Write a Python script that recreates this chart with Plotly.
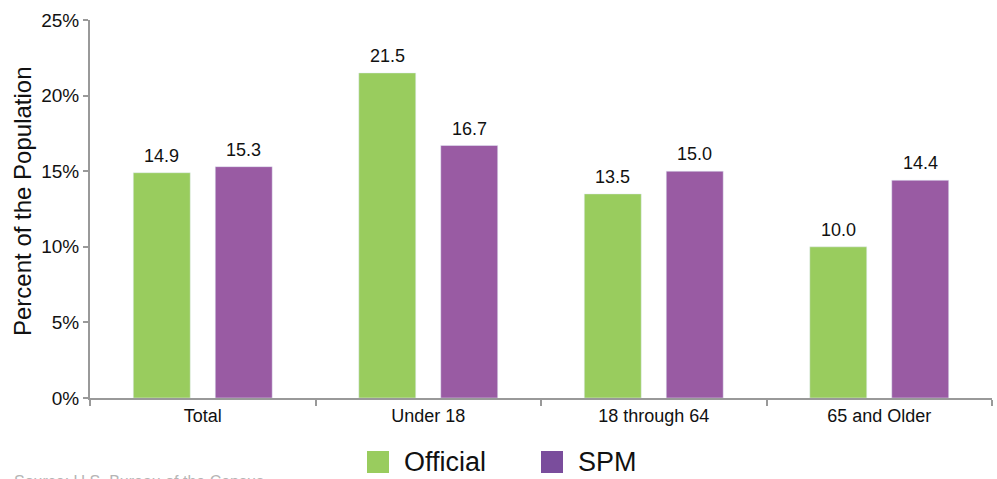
import plotly.graph_objects as go

# Poverty rates by age group: official measure vs. Supplemental Poverty Measure
categories = ["Total", "Under 18", "18 through 64", "65 and Older"]
official = [14.9, 21.5, 13.5, 10.0]
spm = [15.3, 16.7, 15.0, 14.4]
y_ticks = [0, 5, 10, 15, 20, 25]
y_tick_labels = ["0%", "5%", "10%", "15%", "20%", "25%"]

GREEN = "#99CC5E"
PURPLE = "#995BA3"
PURPLE_KEY = "#7A4D9C"
FONT = "Liberation Sans, Arial, Helvetica, sans-serif"

W, H = 997, 479
L, R, T, B = 90, 5, 20, 81
PW, PH = W - L - R, H - T - B
BARGAP = 0.273
BARGROUPGAP = 0.305


def px_x(x):
    return (x - L) / PW


def px_y(y):
    return (H - B - y) / PH


fig = go.Figure()
fig.add_trace(go.Bar(x=categories, y=official, name="Official",
                     marker_color=GREEN, showlegend=False))
fig.add_trace(go.Bar(x=categories, y=spm, name="SPM",
                     marker_color=PURPLE, showlegend=False))

annotations = []
# Value labels above each bar, centred on its slot within the group
slot = (1 - BARGAP) / 2
for series, offset in [(official, -slot / 2), (spm, slot / 2)]:
    for i, v in enumerate(series):
        annotations.append(dict(
            x=i + offset, y=v, xref="x", yref="y", text=f"{v:.1f}",
            showarrow=False, xanchor="center", yanchor="bottom", yshift=5,
            font=dict(size=18, color="#111", family=FONT),
        ))

# Legend keys drawn as squares with labels beneath the axis
shapes = []
for x0, color, label in [(367, GREEN, "Official"), (541, PURPLE_KEY, "SPM")]:
    shapes.append(dict(
        type="rect", xref="paper", yref="paper",
        x0=px_x(x0), x1=px_x(x0 + 22), y0=px_y(473), y1=px_y(451),
        fillcolor=color, line=dict(width=0),
    ))
    annotations.append(dict(
        text=label, xref="paper", yref="paper", x=px_x(x0 + 35), y=px_y(462),
        xanchor="left", yanchor="middle", showarrow=False,
        font=dict(size=27, color="#111", family=FONT),
    ))

# Axis title
annotations.append(dict(
    text="Percent of the Population", xref="paper", yref="paper",
    x=px_x(22), y=px_y(201), textangle=-90, xanchor="center", yanchor="middle",
    showarrow=False, font=dict(size=24, color="#111", family=FONT),
))
# Source line (runs off the bottom edge)
annotations.append(dict(
    text="Source: U.S. Bureau of the Census", xref="paper", yref="paper",
    x=px_x(12), y=px_y(471), xanchor="left", yanchor="top",
    showarrow=False, font=dict(size=16, color="#b5b5b5", family=FONT),
))

fig.update_layout(
    width=W, height=H,
    margin=dict(l=L, r=R, t=T, b=B),
    paper_bgcolor="white", plot_bgcolor="white",
    barmode="group", bargap=BARGAP, bargroupgap=BARGROUPGAP,
    font=dict(family=FONT, color="#111"),
    shapes=shapes, annotations=annotations,
    xaxis=dict(
        showline=True, linecolor="#999", linewidth=2,
        ticks="outside", tickson="boundaries", ticklen=6, tickcolor="#999",
        tickwidth=2, tickfont=dict(size=18, color="#111"), showgrid=False,
    ),
    yaxis=dict(
        range=[0, 25], tickvals=y_ticks, ticktext=y_tick_labels,
        showline=True, linecolor="#999", linewidth=2,
        ticks="outside", ticklen=5, tickcolor="#999", tickwidth=2,
        tickfont=dict(size=19, color="#111"), showgrid=False, zeroline=False,
    ),
)

fig.write_html("out.html")
